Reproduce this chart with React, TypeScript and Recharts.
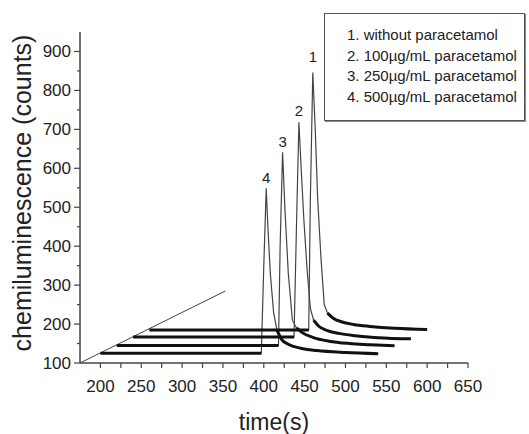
import {
  LineChart,
  Line,
  XAxis,
  YAxis,
  ReferenceLine,
  ReferenceDot,
  Label,
} from "recharts";

// time (s) / counts, one pair per trace
const t1Time = [260, 455, 457, 460, 463, 466, 470, 474, 478, 485, 495, 510, 530, 560, 600];
const t1Counts = [185, 185, 520, 846, 700, 520, 370, 250, 228, 215, 206, 199, 194, 189, 186];

const t2Time = [240, 437, 440, 443, 446, 449, 453, 457, 461, 467, 477, 492, 512, 540, 580];
const t2Counts = [167, 167, 450, 718, 590, 470, 340, 240, 210, 195, 184, 176, 170, 165, 162];

const t3Time = [220, 418, 420, 423, 426, 430, 435, 440, 447, 460, 480, 505, 530, 560];
const t3Counts = [145, 145, 400, 641, 490, 330, 210, 190, 178, 166, 156, 150, 147, 144];

const t4Time = [200, 397, 400, 403, 405, 408, 412, 416, 422, 430, 445, 465, 500, 540];
const t4Counts = [125, 125, 350, 549, 450, 330, 230, 185, 160, 148, 138, 132, 127, 124];

const traceNames = ["1", "2", "3", "4"];
const riseStart = [455, 437, 418, 397];
const tailStart = [478, 461, 440, 416];

const legendItems = [
  "1. without paracetamol",
  "2. 100µg/mL paracetamol",
  "3. 250µg/mL paracetamol",
  "4. 500µg/mL paracetamol",
];

const xTicks = [200, 225, 250, 275, 300, 325, 350, 375, 400, 425, 450, 475, 500, 525, 550, 575, 600, 625, 650];
const yTicks = [100, 150, 200, 250, 300, 350, 400, 450, 500, 550, 600, 650, 700, 750, 800, 850, 900];

const guideStart = { x: 175, y: 100 };
const guideEnd = { x: 353, y: 285 };

const FONT = '"Liberation Sans", Arial, Helvetica, sans-serif';
const labelOffsets = [10, 6, 5, 5];

const traces = [
  [t1Time, t1Counts],
  [t2Time, t2Counts],
  [t3Time, t3Counts],
  [t4Time, t4Counts],
].map(([time, counts], i) => {
  const all = time.map((t, j) => ({ t, v: counts[j] }));
  return {
    name: traceNames[i],
    all,
    pre: all.filter((p) => p.t <= riseStart[i]),
    tail: all.filter((p) => p.t >= tailStart[i]),
    peak: all.reduce((a, b) => (b.v > a.v ? b : a)),
  };
});

function YTick({ x, y, payload }: any) {
  const major = payload.value % 100 === 0;
  return (
    <g>
      <line x1={x - (major ? 6 : 3)} x2={x} y1={y} y2={y} stroke="#444" strokeWidth={1.2} />
      {major && (
        <text x={x - 9} y={y + 6} textAnchor="end" fontSize={17} fill="#222" fontFamily={FONT}>
          {payload.value}
        </text>
      )}
    </g>
  );
}

function XTick({ x, y, payload }: any) {
  const major = payload.value % 50 === 0;
  return (
    <g>
      <line x1={x} x2={x} y1={y} y2={y + 5} stroke="#444" strokeWidth={1.2} />
      {major && (
        <text x={x} y={y + 29} textAnchor="middle" fontSize={17} fill="#222" fontFamily={FONT}>
          {payload.value}
        </text>
      )}
    </g>
  );
}

export default function App() {
  return (
    <div style={{ position: "absolute", left: 0, top: 0, width: 529, height: 434, background: "#fff" }}>
      <LineChart width={529} height={434} margin={{ top: 32, right: 61, bottom: 0, left: 0 }}>
        <XAxis
          dataKey="t"
          type="number"
          domain={[175, 650]}
          ticks={xTicks}
          interval={0}
          tickSize={0}
          tickMargin={0}
          tickLine={false}
          tick={<XTick />}
          height={71}
          axisLine={{ stroke: "#444", strokeWidth: 1.5 }}
          allowDataOverflow
          label={
            <Label
              content={(p: any) => {
                const vb = p.viewBox;
                return (
                  <text x={vb.x + vb.width / 2} y={vb.y + 67} textAnchor="middle" fontSize={23} fill="#222" fontFamily={FONT}>
                    time(s)
                  </text>
                );
              }}
            />
          }
        />
        <YAxis
          type="number"
          domain={[100, 950]}
          ticks={yTicks}
          interval={0}
          tickSize={0}
          tickMargin={0}
          tickLine={false}
          tick={<YTick />}
          width={80}
          axisLine={{ stroke: "#444", strokeWidth: 1.5 }}
          allowDataOverflow
          label={
            <Label
              content={() => (
                <text
                  x={31}
                  y={193}
                  transform="rotate(-90 31 193)"
                  textAnchor="middle"
                  fontSize={25}
                  fill="#222"
                  fontFamily={FONT}
                >
                  chemiluminescence (counts)
                </text>
              )}
            />
          }
        />
        <ReferenceLine segment={[guideStart, guideEnd]} stroke="#444" strokeWidth={1} ifOverflow="visible" />
        {traces.map((tr) => (
          <Line
            key={"all" + tr.name}
            data={tr.all}
            dataKey="v"
            type="linear"
            dot={false}
            stroke="#444"
            strokeWidth={1.2}
            isAnimationActive={false}
          />
        ))}
        {traces.map((tr) => (
          <Line
            key={"pre" + tr.name}
            data={tr.pre}
            dataKey="v"
            type="linear"
            dot={false}
            stroke="#111"
            strokeWidth={3}
            isAnimationActive={false}
          />
        ))}
        {traces.map((tr) => (
          <Line
            key={"tail" + tr.name}
            data={tr.tail}
            dataKey="v"
            type="monotone"
            dot={false}
            stroke="#111"
            strokeWidth={3}
            isAnimationActive={false}
          />
        ))}
        {traces.map((tr, i) => (
          <ReferenceDot
            key={"lbl" + tr.name}
            x={tr.peak.t}
            y={tr.peak.v}
            r={0}
            fill="none"
            stroke="none"
            label={{ value: tr.name, position: "top", offset: labelOffsets[i], fontSize: 15, fill: "#222", fontFamily: FONT }}
          />
        ))}
      </LineChart>
      <div
        style={{
          position: "absolute",
          left: 324,
          top: 13,
          width: 201,
          height: 108,
          border: "1px solid #555",
          boxShadow: "1px 1px 0 #888",
          padding: "11px 0 0 22px",
          boxSizing: "border-box",
          fontFamily: FONT,
          fontSize: 15,
          lineHeight: "20.7px",
          color: "#222",
          background: "#fff",
        }}
      >
        {legendItems.map((s) => (
          <div key={s} style={{ whiteSpace: "nowrap" }}>
            {s}
          </div>
        ))}
      </div>
    </div>
  );
}
